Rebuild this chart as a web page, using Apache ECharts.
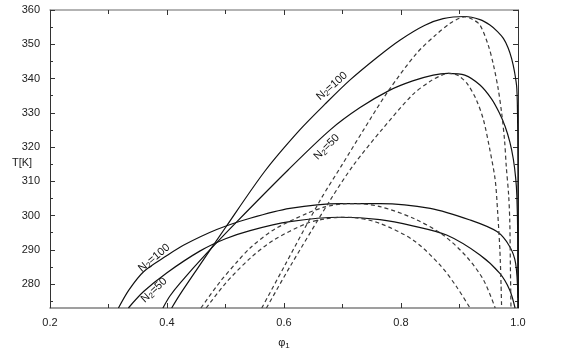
<!DOCTYPE html>
<html><head><meta charset="utf-8">
<script src="https://cdn.jsdelivr.net/npm/echarts@6/dist/echarts.min.js"></script>
<style>html,body{margin:0;padding:0;background:#fff}#c{width:567px;height:352px}</style>
</head><body><div id="c"></div>
<script>
// ---- tick values ----
const xTicks = [0.2, 0.4, 0.6, 0.8, 1.0];
const yTicks = [280, 290, 300, 310, 320, 330, 340, 350, 360];
const yMinorTicks = [275, 285, 295, 305, 315, 325, 335, 345, 355];

// ---- solid curves (binodals) [phi1, T] ----
const lowN100 = [[0.317,273],[0.335,278.3],[0.36,283.6],[0.40,288.3],[0.428,291.3],[0.485,295.9],[0.542,299.2],[0.61,302.1],[0.696,303.5],[0.764,303.5],[0.85,302.1],[0.918,298.7],[0.964,295.3],[0.986,290.9],[0.996,286],[1.0,276]];
const lowN50 = [[0.334,273],[0.36,277.8],[0.40,283.3],[0.456,289.6],[0.50,293.2],[0.542,295.6],[0.61,298.2],[0.696,299.5],[0.764,298.8],[0.82,297],[0.878,294.3],[0.935,288.5],[0.969,283.1],[0.986,278.2],[0.995,273]];
const upN100 = [[0.408,273],[0.422,276.9],[0.45,284],[0.50,296.5],[0.5675,313],[0.627,325],[0.67,332.5],[0.713,339.6],[0.76,346.3],[0.798,351.2],[0.84,355.5],[0.872,357.5],[0.909,358.1],[0.935,357.2],[0.952,355.6],[0.965,353.7],[0.975,351.7],[0.983,349],[0.989,345.9],[0.994,342],[0.998,337.1],[0.9995,325],[1.0,300],[1.0,273]];
const upN50 = [[0.393,273],[0.405,276.5],[0.422,280.2],[0.468,289],[0.52,298.3],[0.607,313.3],[0.679,325],[0.73,331.5],[0.781,336.6],[0.82,339.3],[0.855,341],[0.88,341.5],[0.909,341],[0.935,338.1],[0.955,334],[0.968,330],[0.978,326],[0.986,321.5],[0.992,316.5],[0.996,311],[0.998,306],[0.9995,295],[1.0,273]];

// ---- dashed curves (spinodals) [phi1, T] ----
const spUpN100 = [[0.562,273],[0.60,285],[0.662,304.5],[0.70,315],[0.736,325],[0.778,336.3],[0.827,347.4],[0.86,352.8],[0.884,356.1],[0.90,357.6],[0.909,358.0],[0.922,357.3],[0.935,355.6],[0.949,349.8],[0.958,344],[0.966,337.1],[0.972,330],[0.977,322],[0.98,314.2],[0.984,306],[0.986,298],[0.987,285],[0.988,273]];
const spUpN50 = [[0.570,273],[0.61,285],[0.679,304.5],[0.72,315],[0.767,325],[0.82,335.3],[0.85,339.2],[0.87,341],[0.882,341.5],[0.893,341.2],[0.901,340.5],[0.914,338.3],[0.929,333.7],[0.941,327.9],[0.952,319.1],[0.961,310.4],[0.965,301.6],[0.969,290],[0.971,280],[0.972,273]];
const spLowN100 = [[0.458,273],[0.49,280.5],[0.52,286.5],[0.542,290.5],[0.582,295.8],[0.639,300.6],[0.67,302.5],[0.70,303.4],[0.72,303.5],[0.764,302.6],[0.821,299.2],[0.872,294.3],[0.912,288],[0.941,281.2],[0.961,273]];
const spLowN50 = [[0.467,273],[0.50,280.2],[0.542,287.5],[0.582,292.8],[0.639,297.7],[0.67,299],[0.70,299.5],[0.72,299.4],[0.764,297.7],[0.821,292.8],[0.867,285.5],[0.895,279.2],[0.918,273]];

// ---- curve labels: [text after "N2", phi1, T, angle deg] ----
const curveLabels = [['=100', 0.682, 337.8, 41], ['=50', 0.673, 320.0, 45], ['=100', 0.378, 287.6, 40], ['=50', 0.378, 278.2, 43]];

const FONT = 'Liberation Sans';
const chart = echarts.init(document.getElementById('c'), null, {renderer: 'canvas'});

function xAx(pos, showLabel, color) {
  return {
    type: 'value', min: 0.2, max: 1.0, interval: 0.2, position: pos,
    axisLine: {show: true, onZero: false, lineStyle: {color: color, width: 1.5}},
    axisTick: {show: true, inside: true, length: 5, lineStyle: {color: '#333'}},
    minorTick: {show: true, splitNumber: 2, length: 4, lineStyle: {color: '#333'}},
    splitLine: {show: false}, minorSplitLine: {show: false},
    axisLabel: {show: showLabel, margin: 9, color: '#222', fontSize: 11, fontFamily: FONT,
      formatter: v => v.toFixed(1)}
  };
}
function yAx(pos, ticks, len, showLabel, showLine) {
  return {
    type: 'value', min: 273, max: 360, position: pos,
    axisLine: {show: showLine, onZero: false, lineStyle: {color: '#333', width: 1}},
    axisTick: {show: true, inside: true, length: len, customValues: ticks, lineStyle: {color: '#333'}},
    splitLine: {show: false},
    axisLabel: {show: showLabel, customValues: yTicks, margin: 10, color: '#222', fontSize: 11, fontFamily: FONT}
  };
}
function ser(data, dashed) {
  return {
    type: 'line', data: data, xAxisIndex: 0, yAxisIndex: 0, showSymbol: false, symbol: 'none',
    smooth: 0.3, clip: true, silent: true,
    lineStyle: dashed ? {color: '#3a3a3a', width: 1.2, type: [4, 3]} : {color: '#111', width: 1.2}
  };
}

chart.setOption({
  animation: false,
  backgroundColor: '#fff',
  grid: {left: 50, right: 49, top: 10, bottom: 44},
  xAxis: [xAx('bottom', true, '#808080'), xAx('top', false, '#9a9a9a')],
  yAxis: [yAx('left', yTicks, 5, true, true), yAx('left', yMinorTicks, 3, false, false),
          yAx('right', yTicks, 5, false, true), yAx('right', yMinorTicks, 3, false, false)],
  series: [ser(lowN100,false), ser(lowN50,false), ser(upN100,false), ser(upN50,false),
           ser(spUpN100,true), ser(spUpN50,true), ser(spLowN100,true), ser(spLowN50,true)]
});

const rich = {
  n: {fontSize: 11, fontFamily: FONT, fill: '#111', lineHeight: 13},
  s: {fontSize: 8, fontFamily: FONT, fill: '#111', lineHeight: 8, verticalAlign: 'bottom'}
};
const graphics = curveLabels.map(l => {
  const p = chart.convertToPixel({xAxisIndex: 0, yAxisIndex: 0}, [l[1], l[2]]);
  return {type: 'text', x: p[0], y: p[1], rotation: l[3] * Math.PI / 180, silent: true,
    style: {text: '{n|N}{s|2}{n|' + l[0] + '}', rich: rich, align: 'center', verticalAlign: 'middle'}};
});
graphics.push({type: 'text', x: 12, y: 157, silent: true,
  style: {text: 'T[K]', fontSize: 11, fontFamily: FONT, fill: '#222'}});
graphics.push({type: 'text', x: 284, y: 343, silent: true,
  style: {text: '{n|φ}{s|1}', rich: rich, align: 'center', verticalAlign: 'middle'}});
chart.setOption({graphic: graphics});
</script></body></html>
